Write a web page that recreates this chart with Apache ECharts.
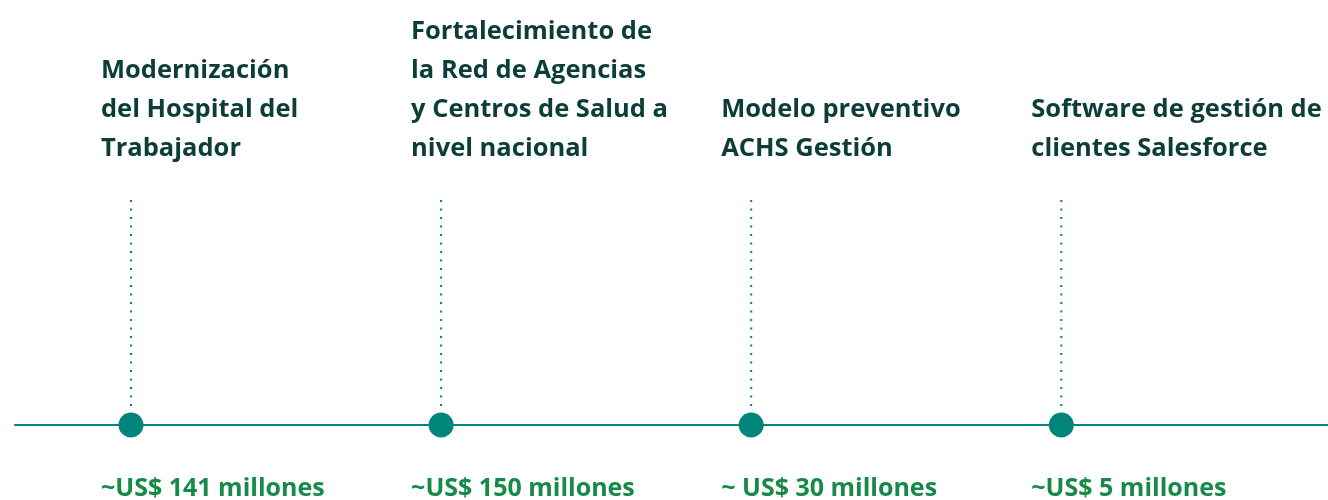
<!DOCTYPE html>
<html><head><meta charset="utf-8">
<script src="https://cdn.jsdelivr.net/npm/echarts@6/dist/echarts.min.js"></script>
<style>html,body{margin:0;padding:0;background:#fff}#c{width:1328px;height:500px}</style>
</head><body><div id="c"></div>
<script>
const titles = [
  "Modernización\ndel Hospital del\nTrabajador",
  "Fortalecimiento de\nla Red de Agencias\ny Centros de Salud a\nnivel nacional",
  "Modelo preventivo\nACHS Gestión",
  "Software de gestión de\nclientes Salesforce"
];
const amounts = ["~US$ 141 millones", "~US$ 150 millones", "~ US$ 30 millones", "~US$ 5 millones"];
const order = [0, 1, 2, 3];

const chart = echarts.init(document.getElementById('c'));
const FONT = '"Open Sans", Lato, sans-serif';
chart.setOption({
  animation: false,
  grid: {left: 15, right: 0, top: 200, bottom: 75},
  xAxis: {type: 'value', min: -0.374, max: 3.86, axisLine: {show: true, onZero: false, lineStyle: {color: '#00857b', width: 2}},
          axisTick: {show: false}, axisLabel: {show: false}, splitLine: {show: false}},
  yAxis: {type: 'value', min: 0, max: 1, show: false},
  series: [{
    type: 'custom',
    data: order.map((o, i) => [o, 0, i]),
    renderItem: function (params, api) {
      const i = api.value(2);
      const p = api.coord([api.value(0), 0]);
      const top = api.coord([api.value(0), 1]);
      return {type: 'group', children: [
        {type: 'line', shape: {x1: p[0], y1: top[1], x2: p[0], y2: p[1] - 14},
         style: {stroke: '#00857b', lineWidth: 2, lineDash: [2, 6.5]}},
        {type: 'circle', shape: {cx: p[0], cy: p[1], r: 12.5}, style: {fill: '#00857b'}},
        {type: 'text', x: p[0] - 30, y: top[1] - 32,
         style: {text: titles[i], fill: '#0c3d39', font: 'bold 25.5px ' + FONT, lineHeight: 39,
                 textAlign: 'left', textVerticalAlign: 'bottom'}},
        {type: 'text', x: p[0] - 30, y: p[1] + 64,
         style: {text: amounts[i], fill: '#168a47', font: 'bold 25px ' + FONT,
                 textAlign: 'left', textVerticalAlign: 'middle'}}
      ]};
    }
  }]
});
</script></body></html>
